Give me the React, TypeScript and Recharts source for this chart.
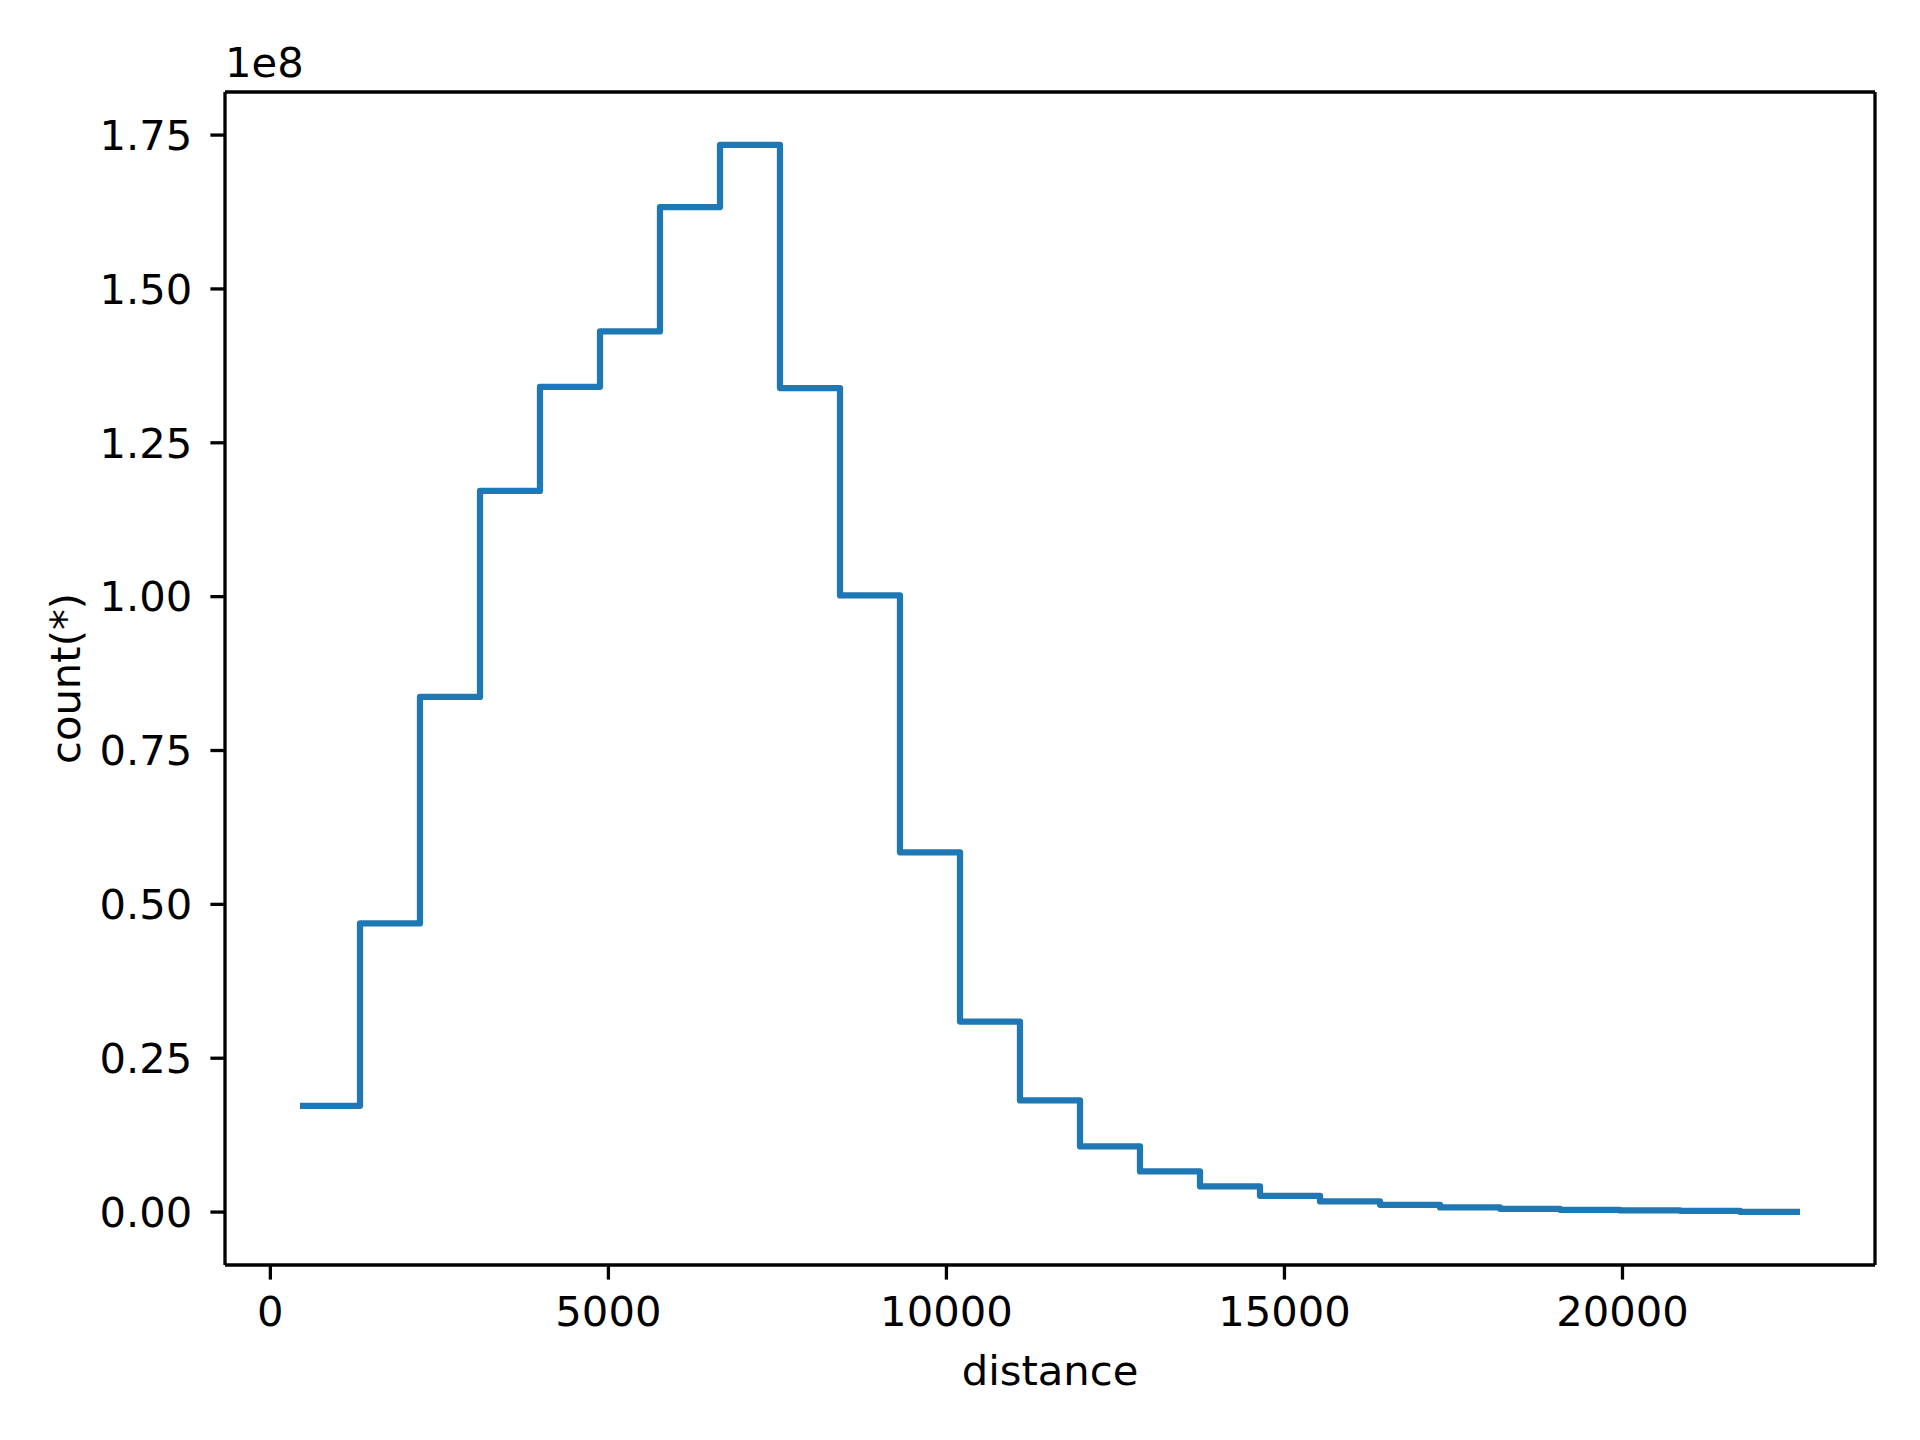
import { ComposedChart, Line, ReferenceLine, XAxis, YAxis } from "recharts";

// histogram bin edges (distance) and counts per bin
const binEdges = [
  438, 1326, 2213, 3101, 3988, 4876, 5763, 6651, 7538, 8426, 9313, 10201, 11088,
  11976, 12863, 13751, 14638, 15526, 16413, 17301, 18188, 19076, 19963, 20851,
  21738, 22626,
];
const binCounts = [
  17260000, 46900000, 83700000, 117180000, 134100000, 143100000, 163300000,
  173400000, 133900000, 100200000, 58460000, 30950000, 18130000, 10660000,
  6600000, 4160000, 2650000, 1720000, 1190000, 750000, 540000, 370000, 260000,
  210000, 50000,
];
const xTicks = [0, 5000, 10000, 15000, 20000];
const yTicks = [0, 25000000, 50000000, 75000000, 100000000, 125000000, 150000000, 175000000];
const xDomain = [-671, 23735];
const yDomain = [-8600000, 182000000];

const FONT = "DejaVu Sans";
const FS = 41.7;

// one point per edge, last edge repeats the final count so stepAfter closes the bin
const stepData = binEdges.map((edge, i) => ({
  distance: edge,
  count: binCounts[Math.min(i, binCounts.length - 1)],
}));

const DistanceLabel = ({ viewBox }: any) => (
  <text x={viewBox.x + viewBox.width / 2} y={viewBox.y + 120} textAnchor="middle" fontFamily={FONT} fontSize={FS} fill="#000">
    distance
  </text>
);

const CountLabel = ({ viewBox }: any) => {
  const x = viewBox.x - 45;
  const y = viewBox.y + viewBox.height / 2;
  return (
    <text x={x} y={y} transform={`rotate(-90, ${x}, ${y})`} textAnchor="middle" fontFamily={FONT} fontSize={FS} fill="#000">
      count(*)
    </text>
  );
};

const OffsetLabel = ({ viewBox }: any) => (
  <text x={viewBox.x} y={viewBox.y - 15} textAnchor="start" fontFamily={FONT} fontSize={FS} fill="#000">
    1e8
  </text>
);

export default function App() {
  const tickStyle = { fill: "#000", fontSize: FS, fontFamily: FONT };
  const lineStyle = { stroke: "#000", strokeWidth: 3.3 };
  return (
    <div style={{ width: 1920, height: 1440, background: "#fff", fontFamily: FONT }}>
      <style>{`body{margin:0}`}</style>
      <ComposedChart width={1920} height={1440} data={stepData} margin={{ top: 92, right: 45, bottom: 75, left: 125 }}>
        <XAxis
          type="number"
          dataKey="distance"
          domain={xDomain}
          ticks={xTicks}
          height={100}
          tick={tickStyle}
          tickSize={14.6}
          tickMargin={17}
          tickLine={lineStyle}
          axisLine={lineStyle}
          label={DistanceLabel}
        />
        <YAxis
          type="number"
          domain={yDomain}
          ticks={yTicks}
          width={100}
          tick={tickStyle}
          tickSize={14.6}
          tickMargin={18}
          tickLine={lineStyle}
          axisLine={lineStyle}
          tickFormatter={(v: number) => (v / 1e8).toFixed(2)}
          label={CountLabel}
        />
        {/* top and right spines */}
        <ReferenceLine y={yDomain[1]} stroke="#000" strokeWidth={3.3} label={OffsetLabel} />
        <ReferenceLine x={xDomain[1]} stroke="#000" strokeWidth={3.3} />
        <Line
          type="stepAfter"
          dataKey="count"
          stroke="#1f77b4"
          strokeWidth={6.25}
          strokeLinejoin="round"
          dot={false}
          activeDot={false}
          isAnimationActive={false}
        />
      </ComposedChart>
    </div>
  );
}
